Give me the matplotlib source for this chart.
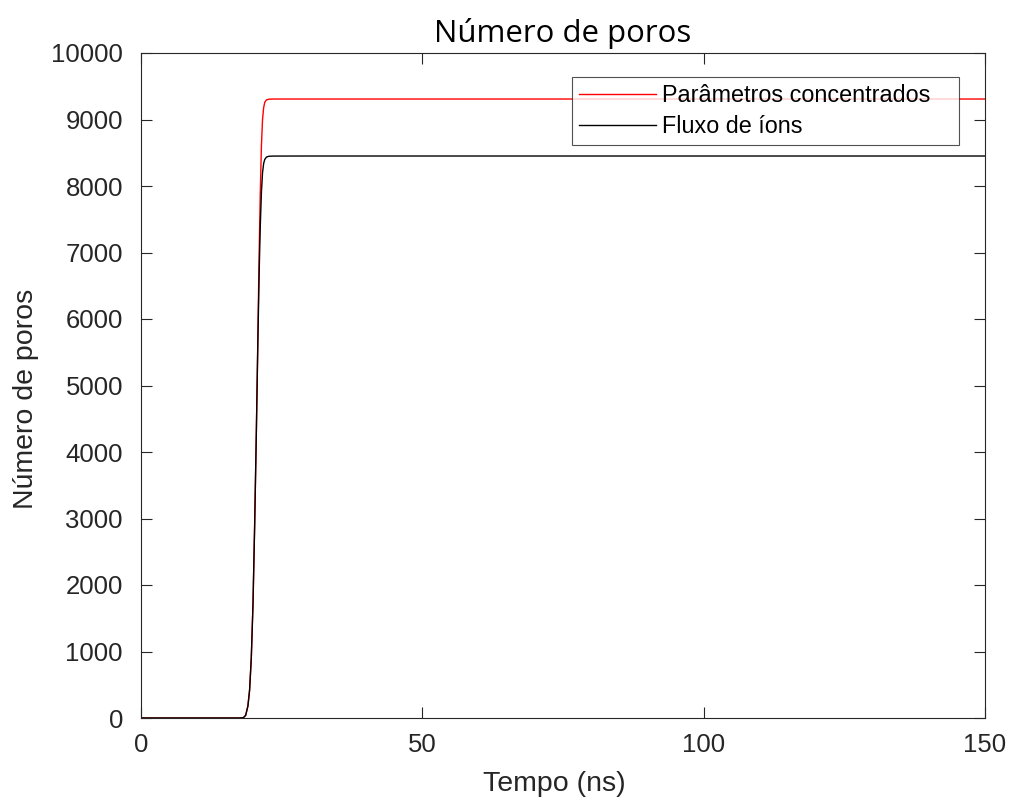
import numpy as np
import matplotlib.pyplot as plt

# tempo (ns) e número de poros para os dois modelos
t_ns = [0, 17.5, 18.2, 18.6, 19.0, 19.3, 19.6, 19.9, 20.2, 20.5, 20.8, 21.0, 21.2,
        21.4, 21.6, 21.8, 22.0, 22.3, 22.7, 23.5, 30, 60, 100, 150]
poros_concentrados = [0, 0, 5, 40, 180, 420, 900, 1700, 2900, 4300, 5900, 7000, 7900,
                      8600, 9000, 9180, 9260, 9295, 9305, 9308, 9308, 9308, 9308, 9308]
poros_fluxo = [0, 0, 5, 40, 180, 420, 900, 1700, 2900, 4300, 5800, 6700, 7400,
               7900, 8200, 8340, 8400, 8435, 8447, 8450, 8451, 8451, 8451, 8451]

txt = '#262626'
plt.rcParams['font.family'] = ['Liberation Sans', 'DejaVu Sans']

fig = plt.figure(figsize=(10.09, 8.02), dpi=100)
ax = fig.add_axes([141/1009, 84/802, 844/1009, 665/802])

ax.plot(t_ns, poros_concentrados, color='#ff0000', lw=1.0, label='Parâmetros concentrados')
ax.plot(t_ns, poros_fluxo, color='#000000', lw=1.0, label='Fluxo de íons')

ax.set_xlim(0, 150)
ax.set_ylim(0, 10000)
ax.set_xticks([0, 50, 100, 150])
ax.set_yticks(np.arange(0, 10001, 1000))
ax.tick_params(direction='in', length=8, width=0.8, top=True, right=True,
               labelsize=18.5, colors=txt)
ax.tick_params(axis='y', pad=13)
ax.tick_params(axis='x', pad=11)
for s in ax.spines.values():
    s.set_color(txt)
    s.set_linewidth(0.8)

ax.set_xlabel('Tempo (ns)', fontsize=20.5, color=txt, labelpad=10)
ax.xaxis.label.set_x(0.49)
ax.set_ylabel('Número de poros', fontsize=20.5, color=txt, labelpad=9)
ax.yaxis.label.set_y(0.48)
ax.set_title('Número de poros', fontsize=22.4, family=['Open Sans', 'DejaVu Sans'],
             color='black', pad=8)

# legenda com caixa fixa (expandida até a borda direita)
leg = ax.legend(loc='upper left',
                bbox_to_anchor=(572/1009, 1 - 145/802, 387/1009, 68/802),
                bbox_transform=fig.transFigure, mode='expand', fontsize=16.8,
                frameon=True, fancybox=False, handlelength=3.3, handletextpad=0.26,
                borderpad=0.3, labelspacing=0.33, borderaxespad=0)
leg.get_frame().set_edgecolor(txt)
leg.get_frame().set_linewidth(0.8)

fig.savefig('out.png', dpi=100)
